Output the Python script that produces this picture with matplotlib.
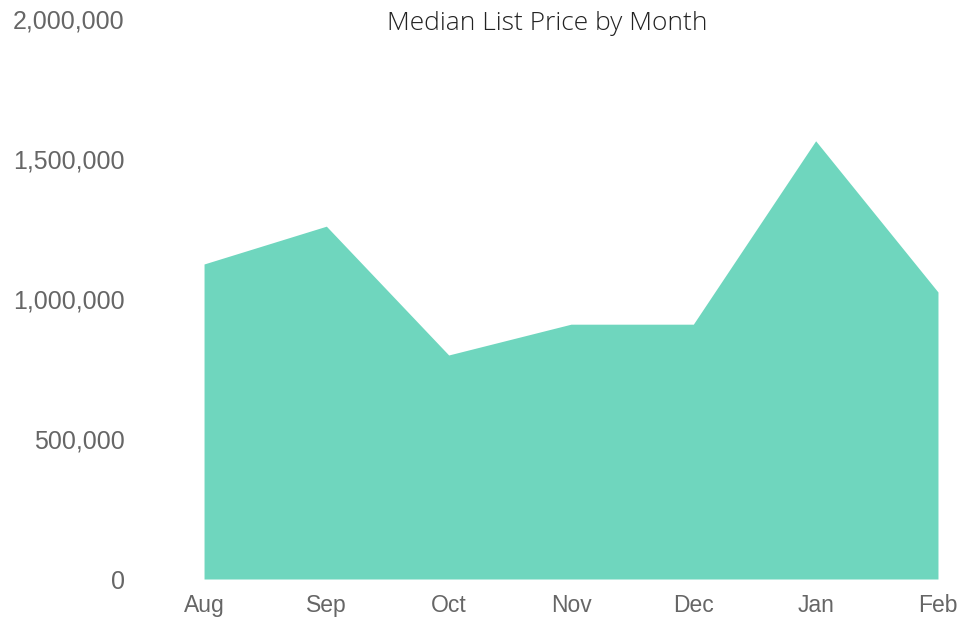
import matplotlib.pyplot as plt
from matplotlib.ticker import FuncFormatter

months = ['Aug', 'Sep', 'Oct', 'Nov', 'Dec', 'Jan', 'Feb']
prices = [1125000, 1260000, 800000, 910000, 910000, 1565000, 1025000]
yticks = [0, 500000, 1000000, 1500000, 2000000]

fig = plt.figure(figsize=(9.73, 6.18), dpi=100)
ax = fig.add_axes([0.2097, 0.0631, 0.7543, 0.9062])

x = range(len(months))
ax.fill_between(x, prices, 0, color='#6fd6be', linewidth=0)

ax.set_xlim(0, len(months) - 1)
ax.set_ylim(0, 2000000)
ax.set_xticks(list(x))
ax.set_xticklabels(months)
ax.set_yticks(yticks)
ax.yaxis.set_major_formatter(FuncFormatter(lambda v, p: f'{int(v):,}'))

for s in ax.spines.values():
    s.set_visible(False)
ax.tick_params(length=0, colors='#666666', labelsize=16.5)
ax.tick_params(axis='y', labelsize=18, pad=57)
ax.tick_params(axis='x', pad=11)
for lab in ax.get_xticklabels() + ax.get_yticklabels():
    lab.set_family('Liberation Sans')

fig.text(0.562, 0.962, 'Median List Price by Month', ha='center', va='center',
         fontsize=19, family='Open Sans', weight='light', color='#222222')

fig.savefig('out.png')
